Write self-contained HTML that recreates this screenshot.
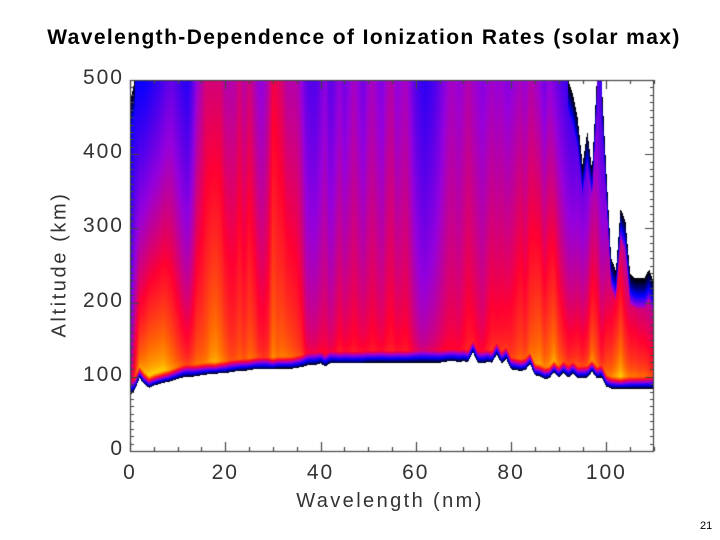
<!DOCTYPE html>
<html><head><meta charset="utf-8">
<style>
html,body{margin:0;padding:0;background:#fff;}
#wrap{position:relative;width:720px;height:540px;overflow:hidden;font-family:"Liberation Sans",sans-serif;}
.t{position:absolute;white-space:nowrap;}
</style></head>
<body>
<div id="wrap">
<div class="t" style="left:0;width:728px;top:26px;text-align:center;font-weight:bold;font-size:21px;letter-spacing:1.4px;color:#000;">Wavelength-Dependence of Ionization Rates (solar max)</div>
<canvas id="cv" width="720" height="540" style="position:absolute;left:0;top:0"></canvas>
<div class="t" style="left:-20px;top:253px;width:160px;text-align:center;font-size:20px;color:#333;letter-spacing:2.6px;transform:rotate(-90deg);">Altitude (km)</div>
<div class="t" style="left:280px;top:490px;width:220px;text-align:center;font-size:20px;color:#333;letter-spacing:2.4px;">Wavelength (nm)</div>
<div class="t" style="left:700px;top:520px;font-size:11px;color:#000;">21</div>
</div>
<script>
const wavelengths=[0,1,2,3,4,5,6,7,8,9,10,11,12,13,14,15,16,17,18,19,20,21,22,23,24,25,26,27,28,29,30,31,32,33,34,35,36,37,38,39,40,41,42,43,44,45,46,47,48,49,50,51,52,53,54,55,56,57,58,59,60,61,62,63,64,65,66,67,68,69,70,71,72,73,74,75,76,77,78,79,80,81,82,83,84,85,86,87,88,89,90,91,92,93,94,95,96,97,98,99,100,101,102,103,104,105,106,107,108,109,110];
const bottomAlt=[75,82,98,90,85,88,90,92,93,95,97,99,100,100,101,102,103,104,104,105,105,106,107,108,108,109,110,110,110,110,110,111,111,111,111,112,113,115,116,116,118,114,118,118,118,118,118,118,118,118,119,119,119,119,119,119,119,119,119,119,119,119,119,119,119,119,120,121,121,120,121,120,133,119,118,120,119,130,118,124,110,109,108,109,117,102,101,97,98,106,99,105,99,104,98,98,99,107,98,99,87,84,84,84,84,84,84,84,84,84,84];
const topAlt=[470,500,500,500,500,500,500,500,500,500,500,500,500,500,500,500,500,500,500,500,500,500,500,500,500,500,500,500,500,500,500,500,500,500,500,500,500,500,500,500,500,500,500,500,500,500,500,500,500,500,500,500,500,500,500,500,500,500,500,500,500,500,500,500,500,500,500,500,500,500,500,500,500,500,500,500,500,500,500,500,500,500,500,500,500,500,500,500,500,500,500,500,500,480,448,386,430,380,500,500,377,260,243,327,310,239,233,233,233,245,225];
const lowValue=[.5,.7,.85,.9,.95,.95,.95,.95,.9,.85,.8,.75,.72,.75,.8,.8,.82,.88,.9,.85,.8,.75,.75,.78,.75,.8,.78,.72,.7,.72,.85,.8,.82,.8,.78,.75,.72,.62,.6,.6,.62,.63,.6,.62,.66,.63,.64,.66,.64,.63,.64,.66,.64,.63,.66,.67,.64,.65,.66,.62,.58,.55,.55,.57,.58,.6,.62,.63,.63,.62,.65,.68,.66,.64,.62,.66,.7,.68,.7,.7,.72,.75,.78,.75,.8,.85,.88,.82,.85,.9,.82,.75,.72,.72,.75,.72,.75,.85,.8,.7,.8,.82,.88,.95,.85,.8,.8,.78,.78,.75,.72];
const highValue=[.22,.26,.26,.26,.28,.3,.32,.35,.38,.38,.35,.32,.3,.35,.45,.5,.55,.55,.55,.55,.5,.5,.5,.55,.5,.55,.5,.45,.45,.5,.6,.58,.55,.5,.5,.5,.45,.38,.36,.36,.4,.44,.37,.4,.45,.4,.44,.48,.44,.4,.46,.48,.44,.42,.48,.5,.44,.46,.48,.42,.36,.33,.31,.33,.35,.39,.43,.47,.47,.45,.47,.5,.47,.45,.43,.45,.47,.45,.46,.43,.44,.46,.48,.45,.5,.48,.45,.4,.45,.42,.38,.35,.32,.3,.3,.28,.3,.35,.38,.32,.28,.26,.25,.3,.25,.22,.22,.2,.2,.2,.2];
const xTicks=[0,20,40,60,80,100];
const yTicks=[0,100,200,300,400,500];

const X0=130,X1=654,Y0=451,Y1=80,XMAX=110,YMAX=500;
const xs=v=>X0+(X1-X0)*v/XMAX;
const ys=v=>Y0-(Y0-Y1)*v/YMAX;
const stops=[[0,0,0,0],[.25,0,0,255],[.45,150,0,220],[.62,255,0,50],[.8,255,110,0],[1,255,230,0]];
function cmap(v){v=Math.max(0,Math.min(1,v));for(let i=1;i<stops.length;i++){if(v<=stops[i][0]){const a=stops[i-1],b=stops[i],t=(v-a[0])/(b[0]-a[0]);return[a[1]+(b[1]-a[1])*t,a[2]+(b[2]-a[2])*t,a[3]+(b[3]-a[3])*t];}}return[255,230,0];}
function interp(arr,w){const i=Math.min(arr.length-2,Math.floor(w)),f=w-i;return arr[i]*(1-f)+arr[i+1]*f;}

const cv=document.getElementById('cv'),ctx=cv.getContext('2d');
const img=ctx.createImageData(X1-X0,Y0-Y1);
for(let px=0;px<X1-X0;px++){
  const w=(px+0.5)/(X1-X0)*XMAX;
  const bot=interp(bottomAlt,w),top=interp(topAlt,w),lo=interp(lowValue,w),hi=interp(highValue,w);
  for(let py=0;py<Y0-Y1;py++){
    const alt=(Y0-(Y1+py+0.5))/(Y0-Y1)*YMAX;
    let r=255,g=255,b=255;
    if(alt>=bot&&alt<=top){
      const h=alt-bot;
      const t=Math.max(0,Math.min(1,(h-20)/Math.max(1,(500-bot-20))));
      let v=lo+(hi-lo)*Math.pow(t,0.6);
      if(h<16){v*=Math.pow(h/16,0.9);}
      if(top<499&&top-alt<40){v*=Math.pow(Math.max(0,(top-alt)/40),1.2)*0.9;}
      [r,g,b]=cmap(v);
    }
    const k=(py*(X1-X0)+px)*4;img.data[k]=r;img.data[k+1]=g;img.data[k+2]=b;img.data[k+3]=255;
  }
}
ctx.putImageData(img,X0,Y1);
ctx.strokeStyle='#444';ctx.lineWidth=1.2;
ctx.strokeRect(X0+0.5,Y1+0.5,X1-X0-1,Y0-Y1);
ctx.beginPath();
for(let v=0;v<=XMAX;v+=5){const x=Math.round(xs(v))+0.5,L=(v%20===0)?9:4;ctx.moveTo(x,Y0);ctx.lineTo(x,Y0-L);ctx.moveTo(x,Y1);ctx.lineTo(x,Y1+L);}
for(let v=0;v<=YMAX;v+=10){const y=Math.round(ys(v))+0.5,L=(v%100===0)?9:4;ctx.moveTo(X0,y);ctx.lineTo(X0+L,y);ctx.moveTo(X1,y);ctx.lineTo(X1-L,y);}
ctx.stroke();
const wrap=document.getElementById('wrap');
xTicks.forEach(v=>{const d=document.createElement('div');d.className='t';


d.style.cssText='left:'+(xs(v)-40)+'px;width:80px;text-align:center;top:461px;font-size:21px;letter-spacing:2px;color:#333;';d.textContent=v;wrap.appendChild(d);});
yTicks.forEach(v=>{const d=document.createElement('div');d.className='t';


d.style.cssText='left:50px;width:74px;text-align:right;top:'+(ys(v)-14)+'px;font-size:21px;letter-spacing:2px;color:#333;';d.textContent=v;wrap.appendChild(d);});
</script>
</body></html>
